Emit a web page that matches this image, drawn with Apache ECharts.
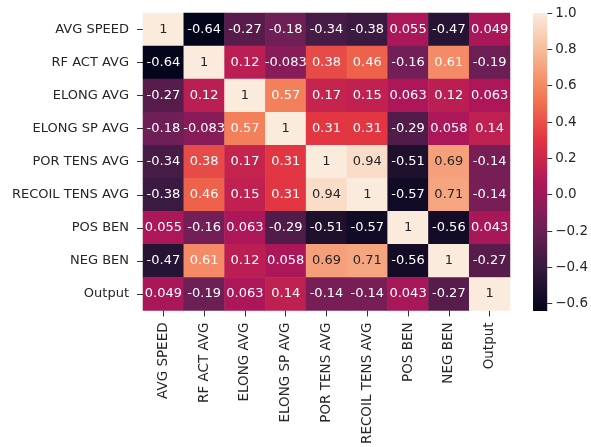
<!DOCTYPE html>
<html>
<head>
<meta charset="utf-8">
<script src="https://cdn.jsdelivr.net/npm/echarts@6/dist/echarts.min.js"></script>
<style>
  html, body { margin: 0; padding: 0; background: #fff; }
  #chart { width: 591px; height: 447px; }
</style>
</head>
<body>
<div id="chart"></div>
<script>
// Feature names (rows top-to-bottom, columns left-to-right)
const features = ['AVG SPEED', 'RF ACT AVG', 'ELONG AVG', 'ELONG SP AVG', 'POR TENS AVG',
                  'RECOIL TENS AVG', 'POS BEN', 'NEG BEN', 'Output'];

// Correlation matrix, one row per feature
const rowAvgSpeed   = [1, -0.64, -0.27, -0.18, -0.34, -0.38, 0.055, -0.47, 0.049];
const rowRfActAvg   = [-0.64, 1, 0.12, -0.083, 0.38, 0.46, -0.16, 0.61, -0.19];
const rowElongAvg   = [-0.27, 0.12, 1, 0.57, 0.17, 0.15, 0.063, 0.12, 0.063];
const rowElongSpAvg = [-0.18, -0.083, 0.57, 1, 0.31, 0.31, -0.29, 0.058, 0.14];
const rowPorTens    = [-0.34, 0.38, 0.17, 0.31, 1, 0.94, -0.51, 0.69, -0.14];
const rowRecoilTens = [-0.38, 0.46, 0.15, 0.31, 0.94, 1, -0.57, 0.71, -0.14];
const rowPosBen     = [0.055, -0.16, 0.063, -0.29, -0.51, -0.57, 1, -0.56, 0.043];
const rowNegBen     = [-0.47, 0.61, 0.12, 0.058, 0.69, 0.71, -0.56, 1, -0.27];
const rowOutput     = [0.049, -0.19, 0.063, 0.14, -0.14, -0.14, 0.043, -0.27, 1];

const matrix = [rowAvgSpeed, rowRfActAvg, rowElongAvg, rowElongSpAvg, rowPorTens,
                rowRecoilTens, rowPosBen, rowNegBen, rowOutput];

// Colour bar range and tick labels
const colorMin = -0.64;
const colorMax = 1.0;
const colorbarTicks = [-0.6, -0.4, -0.2, 0.0, 0.2, 0.4, 0.6, 0.8, 1.0];

// "rocket" colour map, evenly spaced stops from dark to light
const rocket = ['#03051a', '#35193e', '#701f57', '#ad1759', '#e13342', '#f37651', '#f6b48f', '#faebdd'];

const FONT = 'DejaVu Sans';
const DARK_TEXT = '#262626';
const TICK_COLOR = '#333';
// axis lines stay enabled (ticks need them) but are not painted
const hiddenLine = { show: true, onZero: false, lineStyle: { color: 'rgba(0,0,0,0)' } };

// Build heatmap items; light cells get dark annotation text
const heatData = [];
matrix.forEach((row, r) => {
  row.forEach((v, c) => {
    heatData.push({
      value: [c, r, v],
      label: { color: v > 0.65 ? DARK_TEXT : '#ffffff' }
    });
  });
});

const chart = echarts.init(document.getElementById('chart'), null, { renderer: 'canvas' });

chart.setOption({
  backgroundColor: '#ffffff',
  animation: false,
  grid: [
    { left: 143, right: 81, top: 13, bottom: 135 },
    { left: 533, width: 15, top: 13, bottom: 136 }
  ],
  xAxis: [
    {
      type: 'category',
      data: features,
      gridIndex: 0,
      position: 'bottom',
      axisLine: hiddenLine,
      axisTick: { show: true, alignWithLabel: true, length: 6, lineStyle: { color: TICK_COLOR } },
      axisLabel: {
        rotate: 90, margin: 12, fontFamily: FONT, fontSize: 13.5, color: DARK_TEXT
      },
      splitLine: { show: false }
    },
    { type: 'value', gridIndex: 1, min: 0, max: 1, show: false }
  ],
  yAxis: [
    {
      type: 'category',
      data: features,
      gridIndex: 0,
      inverse: true,
      axisLine: hiddenLine,
      axisTick: { show: true, alignWithLabel: true, length: 6, lineStyle: { color: TICK_COLOR } },
      axisLabel: { margin: 14, fontFamily: FONT, fontSize: 13, color: DARK_TEXT },
      splitLine: { show: false }
    },
    {
      type: 'value',
      gridIndex: 1,
      position: 'right',
      min: colorMin,
      max: colorMax,
      axisLine: hiddenLine,
      axisTick: { show: true, length: 5, customValues: colorbarTicks, lineStyle: { color: TICK_COLOR } },
      axisLabel: {
        customValues: colorbarTicks,
        margin: 8,
        fontFamily: FONT, fontSize: 13.5, color: DARK_TEXT,
        formatter: v => Number(v).toFixed(1).replace('-', '\u2212')
      },
      splitLine: { show: false }
    }
  ],
  visualMap: {
    type: 'continuous',
    show: false,
    min: colorMin,
    max: colorMax,
    dimension: 2,
    seriesIndex: 0,
    inRange: { color: rocket }
  },
  series: [
    {
      type: 'heatmap',
      xAxisIndex: 0,
      yAxisIndex: 0,
      data: heatData,
      label: {
        show: true,
        fontFamily: FONT,
        fontSize: 13,
        formatter: p => String(p.value[2])
      },
      itemStyle: { borderWidth: 0 },
      emphasis: { disabled: true }
    },
    {
      // colour bar drawn as one gradient strip spanning the value range
      type: 'custom',
      xAxisIndex: 1,
      yAxisIndex: 1,
      data: [[0, colorMin, 1, colorMax]],
      renderItem: (params, api) => {
        const p0 = api.coord([api.value(0), api.value(3)]);
        const p1 = api.coord([api.value(2), api.value(1)]);
        return {
          type: 'rect',
          shape: { x: p0[0], y: p0[1], width: p1[0] - p0[0], height: p1[1] - p0[1] },
          style: {
            fill: new echarts.graphic.LinearGradient(0, 1, 0, 0,
              rocket.map((c, i) => ({ offset: i / (rocket.length - 1), color: c })))
          }
        };
      },
      silent: true
    }
  ]
});
</script>
</body>
</html>
